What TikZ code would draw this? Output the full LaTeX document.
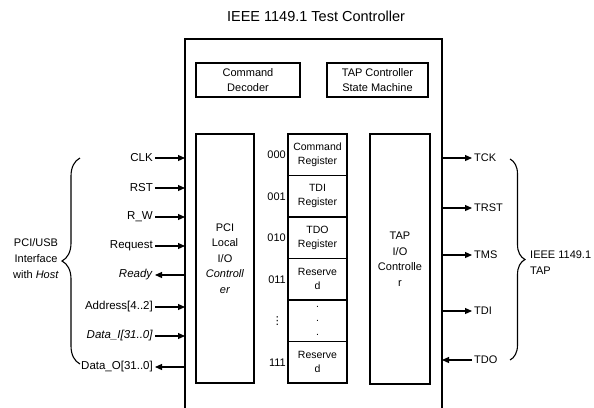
\documentclass[tikz,border=0pt]{standalone}
\usepackage{fontspec}
\setmainfont{Liberation Sans}
\newfontfamily\dejavu{DejaVu Sans}
\usetikzlibrary{arrows.meta, positioning, decorations.pathreplacing}

\begin{document}
\begin{tikzpicture}[
    x=1pt, y=-1pt,
    box/.style={
        rectangle, draw=black, line width=1.1pt,
        inner sep=2pt, outer sep=0pt, align=center,
        font=\fontsize{11}{15.5}\selectfont
    },
    reg/.style={box, minimum width=59pt, minimum height=41.5pt,
        font=\fontsize{10.5}{14}\selectfont},
    sig/.style={inner sep=2pt, font=\fontsize{11.5}{13}\selectfont},
    tap/.style={inner sep=2pt, font=\fontsize{11}{13}\selectfont},
    code/.style={inner sep=1pt, font=\fontsize{11}{13}\selectfont},
    lbl/.style={align=center, inner sep=2pt, font=\fontsize{11}{16}\selectfont},
    arr/.style={-{Triangle[length=7pt, width=6pt]}, line width=1.1pt},
    brc/.style={decorate, decoration={brace, amplitude=#1}, line width=1.1pt},
]
\useasboundingbox (0,0) rectangle (594,407);

%% ---- TITLE + FRAME ----
\node[font=\fontsize{14.5}{17}\selectfont] (title) at (316,16) {IEEE 1149.1 Test Controller};
\node[inner sep=0pt, outer sep=0pt, anchor=north west,
      minimum width=257pt, minimum height=380pt] (ctrl) at (185,39) {};
\draw[line width=1.1pt] (ctrl.south west) |- (ctrl.north east) -- (ctrl.south east);

%% ---- UPPER BLOCKS ----
\node[box, anchor=north west, minimum width=104pt, minimum height=34pt] (cmddec) at (196,63) {Command\\Decoder};
\node[box, anchor=north west, minimum width=101pt, minimum height=34pt] (tapsm)  at (327,63) {TAP Controller\\State Machine};

%% ---- I/O CONTROLLERS ----
\node[box, anchor=north west, minimum width=58pt, minimum height=249pt] (pci) at (196,134)
    {PCI\\Local\\I/O\\\textit{Controll}\\\textit{er}};
\node[box, anchor=north west, minimum width=60pt, minimum height=250pt] (tapio) at (370,134)
    {TAP\\I/O\\Controlle\\r};

%% ---- REGISTERS ----
\node[reg, anchor=north west] (reg0) at (288,134) {Command\\Register};
\node[reg, below=0pt of reg0] (reg1) {TDI\\Register};
\node[reg, below=0pt of reg1] (reg2) {TDO\\Register};
\node[reg, below=0pt of reg2] (reg3) {Reserve\\d};
\node[reg, below=0pt of reg3] (reg4) {.\\.\\.};
\node[reg, below=0pt of reg4] (reg7) {Reserve\\d};

\node[code, left=1pt of reg0] (c0) {000};
\node[code, left=1pt of reg1] (c1) {001};
\node[code, left=1pt of reg2] (c2) {010};
\node[code, left=1pt of reg3] (c3) {011};
\node[code, left=4pt of reg4] (c4) {\dejavu ⋮};
\node[code, left=1pt of reg7] (c7) {111};

%% ---- HOST SIGNALS ----
\node[sig, anchor=east] (clk)   at (155,158) {CLK};
\node[sig, anchor=east] (rst)   at (155,188) {RST};
\node[sig, anchor=east] (rw)    at (155,217) {R\_W};
\node[sig, anchor=east] (req)   at (155,246) {Request};
\node[sig, anchor=east] (ready) at (155,275) {\textit{Ready}};
\node[sig, anchor=east] (addr)  at (155,307) {Address[4..2]};
\node[sig, anchor=east] (datai) at (155,336) {\textit{Data\_I[31..0]}};
\node[sig, anchor=east] (datao) at (155,367) {Data\_O[31..0]};

\draw[arr] (clk.east)  -- (clk.east -| ctrl.west);
\draw[arr] (rst.east)  -- (rst.east -| ctrl.west);
\draw[arr] (rw.east)   -- (rw.east -| ctrl.west);
\draw[arr] (req.east)  -- (req.east -| ctrl.west);
\draw[arr] (ready.east -| ctrl.west) -- (ready.east);
\draw[arr] (addr.east) -- (addr.east -| ctrl.west);
\draw[arr] (datai.east) -- (datai.east -| ctrl.west);
\draw[arr] (datao.east -| ctrl.west) -- (datao.east);

%% ---- TAP SIGNALS ----
\node[tap, anchor=west] (tck)  at (472,158) {TCK};
\node[tap, anchor=west] (trst) at (472,208) {TRST};
\node[tap, anchor=west] (tms)  at (472,255) {TMS};
\node[tap, anchor=west] (tdi)  at (472,311) {TDI};
\node[tap, anchor=west] (tdo)  at (472,360) {TDO};

\draw[arr] (tck.west -| ctrl.east)  -- (tck.west);
\draw[arr] (trst.west -| ctrl.east) -- (trst.west);
\draw[arr] (tms.west -| ctrl.east)  -- (tms.west);
\draw[arr] (tdi.west -| ctrl.east)  -- (tdi.west);
\draw[arr] (tdo.west) -- (tdo.west -| ctrl.east);

%% ---- BRACES ----
\coordinate (hosttop) at (80,158);
\coordinate (hostbot) at (80,364);
\draw[brc=18pt] (hostbot) -- (hosttop);
\node[lbl, anchor=east] (host) at (61,259) {PCI/USB\\Interface\\with \textit{Host}};

\coordinate (taptop) at (510,159);
\coordinate (tapbot) at (510,360);
\draw[brc=15pt] (taptop) -- (tapbot);
\node[lbl, anchor=west, align=left] (taplbl) at (528,263) {IEEE 1149.1\\TAP};

\end{tikzpicture}
\end{document}
